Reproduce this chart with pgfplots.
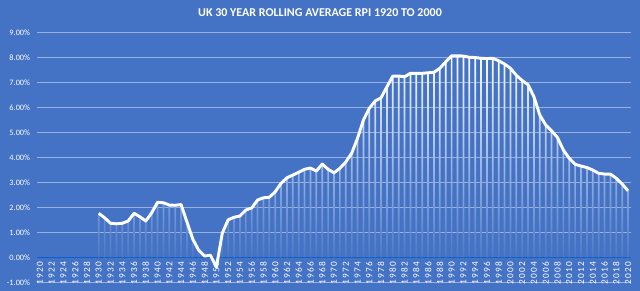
\documentclass[border=0pt]{standalone}
\usepackage{pgfplots}
\pgfplotsset{compat=1.18}
\usepackage{pgfplotstable}
\usepackage{fontspec}
\setmainfont{Carlito}
\definecolor{bgblue}{RGB}{68,114,196}
\definecolor{zeroblue}{RGB}{10,96,196}
\pgfplotstableread{
year val
1930 1.76
1931 1.58
1932 1.36
1933 1.34
1934 1.36
1935 1.45
1936 1.76
1937 1.62
1938 1.45
1939 1.78
1940 2.20
1941 2.18
1942 2.09
1943 2.08
1944 2.11
1945 1.41
1946 0.72
1947 0.28
1948 0.05
1949 0.08
1950 -0.40
1951 0.96
1952 1.50
1953 1.60
1954 1.65
1955 1.89
1956 1.97
1957 2.29
1958 2.38
1959 2.40
1960 2.62
1961 2.96
1962 3.18
1963 3.29
1964 3.40
1965 3.52
1966 3.57
1967 3.45
1968 3.73
1969 3.52
1970 3.38
1971 3.56
1972 3.81
1973 4.16
1974 4.76
1975 5.49
1976 5.96
1977 6.25
1978 6.38
1979 6.82
1980 7.25
1981 7.25
1982 7.22
1983 7.36
1984 7.36
1985 7.36
1986 7.38
1987 7.40
1988 7.56
1989 7.82
1990 8.06
1991 8.06
1992 8.05
1993 8.00
1994 7.99
1995 7.96
1996 7.95
1997 7.96
1998 7.86
1999 7.73
2000 7.56
2001 7.28
2002 7.07
2003 6.90
2004 6.42
2005 5.69
2006 5.29
2007 5.06
2008 4.79
2009 4.29
2010 3.96
2011 3.72
2012 3.65
2013 3.59
2014 3.49
2015 3.36
2016 3.33
2017 3.33
2018 3.16
2019 2.93
2020 2.66
}\rpi
\begin{document}
\begin{tikzpicture}
\useasboundingbox (-27.75pt,-6.525pt) rectangle (452.25pt,211.725pt);
\fill[bgblue] (-27.75pt,-6.525pt) rectangle (452.25pt,211.725pt);
\begin{axis}[
  at={(0pt,0pt)}, anchor=south west,
  scale only axis, width=445.5pt, height=187.5pt,
  xmin=1919.5, xmax=2020.5, ymin=-1, ymax=9,
  axis x line*=middle, axis y line*=left,
  axis line style={draw=none},
  xtick={1920,1922,...,2020},
  ytick={-1,0,...,9},
  major tick length=0pt,
  ymajorgrids,
  grid style={white, opacity=0.45, line width=0.6pt},
  extra y ticks={0}, extra y tick labels={},
  extra y tick style={grid=major, major grid style={zeroblue, line width=1.1pt, opacity=1}},
  /pgf/number format/assume math mode=true,
  yticklabel={\pgfmathprintnumber[fixed,fixed zerofill,precision=2]{\tick}\%},
  xticklabel={\pgfmathprintnumber[1000 sep={}]{\tick}},
  yticklabel style={font=\fontsize{6.2}{7}\selectfont, text=white, inner sep=0pt, anchor=east, xshift=-5pt},
  xticklabel style={font=\fontsize{7}{7}\selectfont\addfontfeature{LetterSpace=12}, text=white, inner sep=0pt, rotate=90, anchor=east},
  xticklabel shift=3.5pt,
  clip=false,
]
\addplot[ybar, bar width=1.3pt, draw=none, top color=white, bottom color=bgblue] table[x=year,y=val] {\rpi};
\addplot[white, line width=2.2pt, line join=round, mark=none] table[x=year,y=val] {\rpi};
\end{axis}
\node[font=\fontsize{9}{10}\selectfont\bfseries, text=white, inner sep=0pt] at (212.25pt,202pt) {UK 30 YEAR ROLLING AVERAGE RPI 1920 TO 2000};
\end{tikzpicture}
\end{document}
